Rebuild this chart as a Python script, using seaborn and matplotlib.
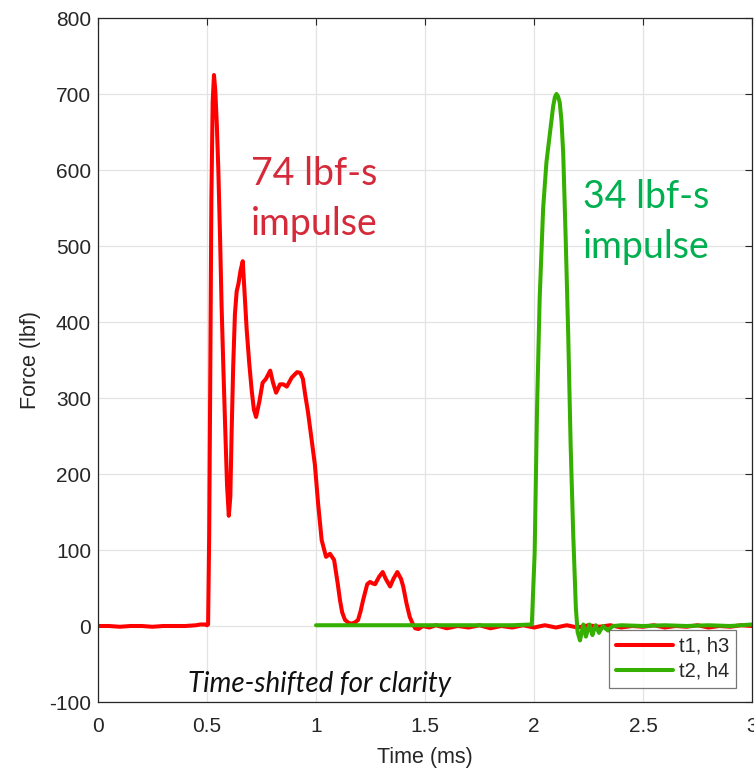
import matplotlib
matplotlib.use("Agg")
import matplotlib.pyplot as plt
import seaborn as sns
import pandas as pd
from matplotlib.lines import Line2D

# ---- data ----
red_t = [0.00, 0.05, 0.10, 0.15, 0.20, 0.25, 0.30, 0.35, 0.40, 0.45, 0.47, 0.49, 0.50,
         0.505, 0.51, 0.515, 0.52, 0.526, 0.532, 0.538, 0.545, 0.552, 0.56, 0.567, 0.575,
         0.583, 0.592, 0.60, 0.607, 0.613, 0.62, 0.628, 0.636, 0.644, 0.654, 0.664, 0.672,
         0.682, 0.694, 0.705, 0.715, 0.725, 0.74, 0.755, 0.77, 0.79, 0.803, 0.817, 0.835,
         0.85, 0.866, 0.889, 0.913, 0.928, 0.94, 0.95, 0.963, 0.98, 0.995, 1.01, 1.026,
         1.046, 1.064, 1.083, 1.10, 1.11, 1.12, 1.133, 1.15, 1.164, 1.18, 1.193, 1.205,
         1.216, 1.235, 1.248, 1.26, 1.271, 1.29, 1.306, 1.32, 1.34, 1.355, 1.373, 1.39,
         1.40, 1.415, 1.43, 1.445, 1.455, 1.47, 1.49, 1.52, 1.55, 1.60, 1.65, 1.70, 1.75,
         1.80, 1.85, 1.90, 1.95, 2.00, 2.05, 2.10, 2.15, 2.20, 2.25, 2.30, 2.35, 2.40,
         2.45, 2.50, 2.55, 2.60, 2.65, 2.70, 2.75, 2.80, 2.85, 2.90, 2.95, 3.00]
red_f = [0, 0, -1, 0, 0, -1, 0, 0, 0, 1, 2, 2, 1,
         2, 120, 330, 560, 690, 725, 705, 660, 600, 510, 420, 340,
         265, 185, 145, 170, 255, 340, 410, 440, 450, 468, 480, 440,
         390, 345, 310, 285, 275, 295, 320, 325, 336, 320, 307, 318,
         318, 315, 327, 334, 333, 325, 305, 282, 245, 212, 160, 113,
         91, 95, 87, 55, 34, 18, 8, 4, 3, 5, 8, 20,
         34, 55, 58, 56, 55, 65, 71, 62, 52, 62, 71, 62,
         52, 30, 12, 2, -3, -4, 0, -2, 1, -3, 0, -2, 1,
         -3, 0, -2, 1, -2, 1, -2, 1, -2, 1, -1, 1, -2,
         0, -1, 1, -2, 0, -1, 1, -2, 0, -1, 1, 0]

green_t = [1.00, 1.10, 1.20, 1.30, 1.40, 1.50, 1.60, 1.70, 1.80, 1.90, 1.99, 2.003,
           2.014, 2.026, 2.042, 2.057, 2.072, 2.088, 2.096, 2.103, 2.11, 2.118, 2.126,
           2.134, 2.146, 2.157, 2.168, 2.18, 2.192, 2.20, 2.211, 2.219, 2.226, 2.232,
           2.238, 2.246, 2.254, 2.261, 2.268, 2.275, 2.283, 2.29, 2.298, 2.308, 2.318,
           2.33, 2.34, 2.353, 2.365, 2.40, 2.50, 2.60, 2.70, 2.80, 2.90, 3.00]
green_f = [1, 1, 1, 1, 1, 1, 1, 1, 1, 1, 2, 96,
           287, 431, 550, 610, 646, 684, 696, 700, 697, 689, 665,
           622, 503, 383, 239, 120, 24, -8, -19, -8, 2, -6,
           -14, -6, 2, -5, -12, -5, 1, -4, -9, -4, 0,
           -4, -6, -2, 0, 1, 0, 1, 0, 1, 0, 2]

series_names = ["t1, h3", "t2, h4"]
x_ticks = [0, 0.5, 1, 1.5, 2, 2.5, 3]
x_tick_labels = ["0", "0.5", "1", "1.5", "2", "2.5", "3"]
y_ticks = [-100, 0, 100, 200, 300, 400, 500, 600, 700, 800]

df = pd.concat([
    pd.DataFrame({"Time": red_t, "Force": red_f, "series": series_names[0]}),
    pd.DataFrame({"Time": green_t, "Force": green_f, "series": series_names[1]}),
], ignore_index=True)

sns.set_style("white")
plt.rcParams["font.family"] = ["Liberation Sans", "DejaVu Sans"]
plt.rcParams["axes.unicode_minus"] = False

fig = plt.figure(figsize=(7.54, 7.72), dpi=100)
ax = fig.add_axes([98 / 754, (772 - 702) / 772, (752 - 98) / 754, (702 - 18) / 772])

palette = {series_names[0]: "#FF0000", series_names[1]: "#36B000"}
sns.lineplot(data=df, x="Time", y="Force", hue="series", palette=palette,
             estimator=None, sort=False, linewidth=2.9, ax=ax, legend=False)

ax.set_xlim(0, 3)
ax.set_ylim(-100, 800)
ax.set_xticks(x_ticks)
ax.set_xticklabels(x_tick_labels)
ax.set_yticks(y_ticks)
ax.grid(True, color="#e3e3e3", linewidth=0.9)
ax.set_axisbelow(True)
for s in ax.spines.values():
    s.set_color("#262626")
    s.set_linewidth(0.9)
    s.set_visible(True)
ax.tick_params(axis="both", direction="in", length=5, width=0.8, color="#262626",
               labelsize=15, labelcolor="#262626", top=True, right=True)
ax.tick_params(axis="x", pad=11)
ax.tick_params(axis="y", pad=5)
ax.set_xlabel("Time (ms)", fontsize=15.5, color="#262626", labelpad=8)
ax.set_ylabel("Force (lbf)", fontsize=15.5, color="#262626", labelpad=6)

# annotations
ann_font = ["Lato", "DejaVu Sans"]
ax.text(0.702, 580, "74 lbf-s", color="#D42A3A", fontsize=27, family=ann_font,
        va="baseline", ha="left")
ax.text(0.702, 514, "impulse", color="#D42A3A", fontsize=27, family=ann_font,
        va="baseline", ha="left")
ax.text(2.225, 550, "34 lbf-s", color="#00B050", fontsize=27, family=ann_font,
        va="baseline", ha="left")
ax.text(2.225, 484, "impulse", color="#00B050", fontsize=27, family=ann_font,
        va="baseline", ha="left")
ax.text(0.413, -87, "Time-shifted for clarity", color="#111111", fontsize=20,
        style="italic", family=ann_font, va="baseline", ha="left")

handles = [Line2D([], [], color=palette[n], linewidth=2.9) for n in series_names]
leg = ax.legend(handles, series_names, loc="lower right",
                bbox_to_anchor=((736 - 98) / 654, (702 - 688) / 684),
                borderaxespad=0, fontsize=14.5, handlelength=2.8, handletextpad=0.3,
                fancybox=False, frameon=True, borderpad=0.35, labelspacing=0.3)
leg.get_frame().set_edgecolor("#555555")
leg.get_frame().set_linewidth(0.9)

fig.savefig("out.png", dpi=100)
